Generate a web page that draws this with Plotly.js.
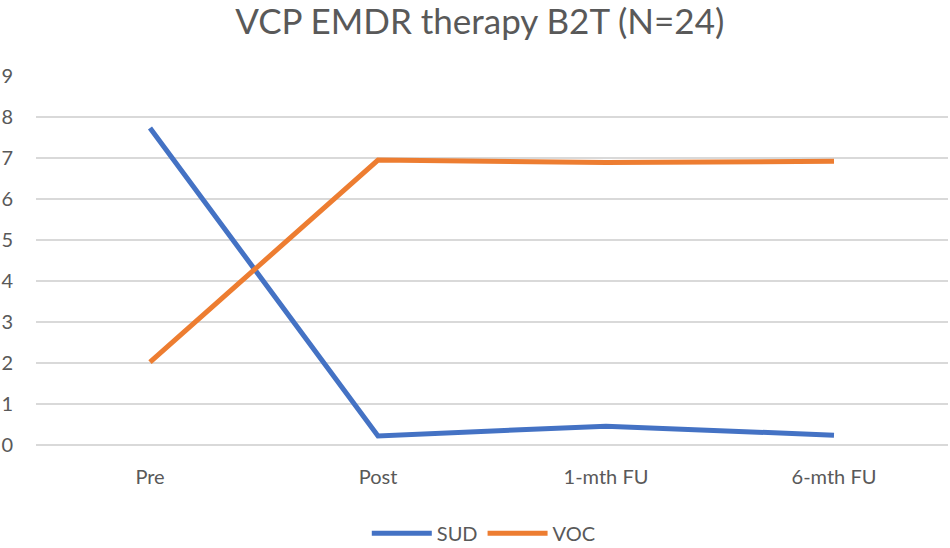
<!DOCTYPE html>
<html>
<head>
<meta charset="utf-8">
<script src="https://cdn.plot.ly/plotly-3.0.1.min.js"></script>
<style>html,body{margin:0;padding:0;background:#fff;}#chart{width:950px;height:548px;}</style>
</head>
<body>
<div id="chart"></div>
<script>
const categories = ["Pre", "Post", "1-mth FU", "6-mth FU"];
const sudValues = [7.73, 0.22, 0.46, 0.24];
const vocValues = [2.02, 6.95, 6.89, 6.92];
const yTicks = [0, 1, 2, 3, 4, 5, 6, 7, 8, 9];

const fontFamily = "Lato, 'Open Sans', sans-serif";
const textColor = "#595959";

const traces = [
  {x: categories, y: sudValues, name: "SUD", type: "scatter", mode: "lines",
   line: {color: "#4472C4", width: 5}},
  {x: categories, y: vocValues, name: "VOC", type: "scatter", mode: "lines",
   line: {color: "#ED7D31", width: 5}}
];

const layout = {
  width: 950, height: 548,
  margin: {l: 36, r: 2, t: 76, b: 103, autoexpand: false},
  paper_bgcolor: "#fff", plot_bgcolor: "#fff",
  font: {family: fontFamily, color: textColor, size: 20},
  title: {text: "VCP EMDR therapy B2T (N=24)", font: {family: fontFamily, size: 35, color: textColor},
          x: 0.505, xanchor: "center", yref: "container", y: 0.96, yanchor: "middle"},
  xaxis: {type: "category", categoryorder: "array", categoryarray: categories,
          range: [-0.5, 3.5], showgrid: false, zeroline: false, showline: false,
          ticks: "", tickfont: {size: 20, color: textColor}, ticklabelstandoff: 18, fixedrange: true},
  yaxis: {range: [0, 9], tickvals: yTicks, ticktext: yTicks.map(String),
          showgrid: true, gridcolor: "#d9d9d9", gridwidth: 1.5,
          zeroline: true, zerolinecolor: "#d9d9d9", zerolinewidth: 1.5,
          showline: false, ticks: "", tickfont: {size: 20, color: textColor}, ticklabelstandoff: 22, fixedrange: true},
  showlegend: true,
  legend: {orientation: "h", x: 0.491, xanchor: "center", yref: "container", y: 0.027, yanchor: "middle",
           font: {size: 20, color: textColor}, itemwidth: 60, traceorder: "normal"}
};

Plotly.newPlot("chart", traces, layout, {displayModeBar: false, staticPlot: true});
</script>
</body>
</html>
